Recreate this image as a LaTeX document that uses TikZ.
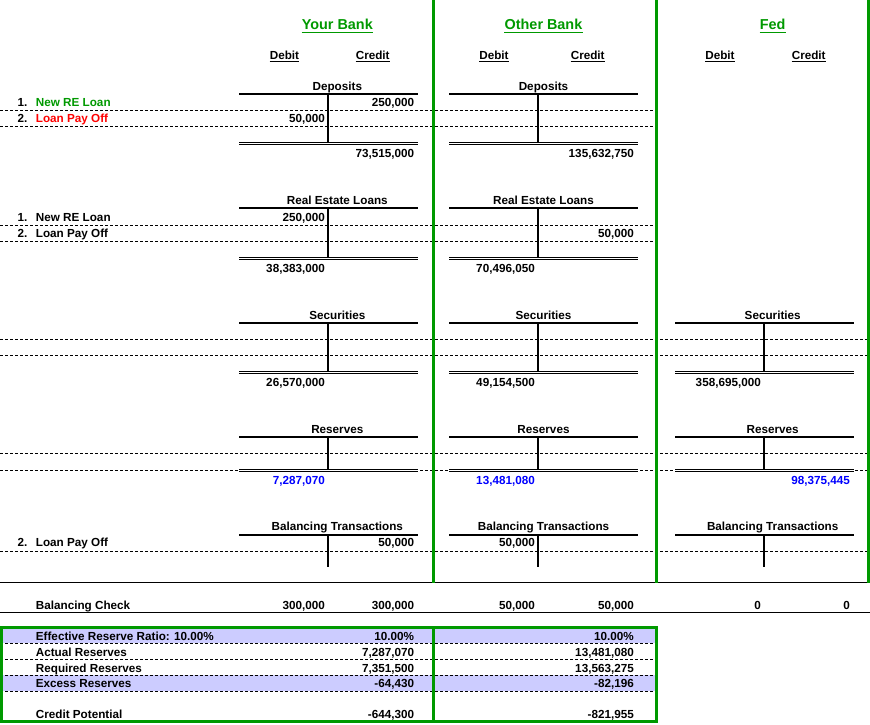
\documentclass[tikz,border=0pt]{standalone}
\usepackage{fontspec}
\setmainfont{Liberation Sans}
\definecolor{xlgreen}{RGB}{0,153,0}
\definecolor{xlred}{RGB}{255,0,0}
\definecolor{xlblue}{RGB}{0,0,255}
\definecolor{xlshade}{RGB}{204,204,255}
\tikzset{
  txt/.style={font=\fontsize{11.7}{13}\selectfont\bfseries,inner sep=0pt},
  lbl/.style={txt,anchor=base west},
  num/.style={txt,anchor=base east},
  ttl/.style={txt,anchor=base},
  head/.style={font=\fontsize{14.4}{16}\selectfont\bfseries,text=xlgreen,inner sep=0pt,anchor=base},
  uline/.style={line width=1.1pt},
  bar/.style={line width=2pt},
  dbl/.style={double,double distance=1pt,line width=1pt},
  dsh/.style={dash pattern=on 3pt off 2pt,line width=1pt},
  wall/.style={draw=xlgreen,line width=3pt},
}
\begin{document}
\begin{tikzpicture}[x=1pt,y=-1pt]
\useasboundingbox (0,0) rectangle (870,724);
%Shading
\fill[xlshade] (0,627) rectangle (656,643);
\fill[xlshade] (0,675) rectangle (656,691);
%Row lines
\draw[dsh] (0,110.5) -- (656,110.5);
\draw[dsh] (0,126.5) -- (656,126.5);
\draw[dsh] (0,225.5) -- (656,225.5);
\draw[dsh] (0,241.5) -- (656,241.5);
\draw[dsh] (0,339.5) -- (870,339.5);
\draw[dsh] (0,355.5) -- (870,355.5);
\draw[dsh] (0,453.5) -- (870,453.5);
\draw[dsh] (0,470.5) -- (870,470.5);
\draw[dsh] (0,551.5) -- (868,551.5);
\draw[dsh] (0,643.5) -- (656,643.5);
\draw[dsh] (0,659.5) -- (656,659.5);
\draw[dsh] (0,675.5) -- (656,675.5);
\draw[dsh] (0,691.5) -- (656,691.5);
\draw[line width=1pt] (0,582.5) -- (870,582.5);
\draw[line width=1pt] (0,612.5) -- (870,612.5);
%Columns
\draw[wall] (433.5,0) -- (433.5,583);
\draw[wall] (656.5,0) -- (656.5,583);
\draw[wall] (868,0) -- (868,583);
\draw[wall] (1.5,627.5) rectangle (656.5,721.5);
\draw[wall] (433.5,627.5) -- (433.5,721.5);
%Headers
\node[head] (yb) at (337.3,29.3) {Your Bank};
\node[head] (ob) at (543.5,29.3) {Other Bank};
\node[head] (fd) at (772.7,29.3) {Fed};
\node[ttl] (ydb) at (284.5,59.3) {Debit};
\node[ttl] (ycr) at (372.7,59.3) {Credit};
\node[ttl] (odb) at (494,59.3) {Debit};
\node[ttl] (ocr) at (587.7,59.3) {Credit};
\node[ttl] (fdb) at (720,59.3) {Debit};
\node[ttl] (fcr) at (808.7,59.3) {Credit};
\foreach \n in {yb,ob,fd}
  \draw[xlgreen,line width=1.4pt] ([yshift=-3pt]\n.base west) -- ([yshift=-3pt]\n.base east);
\foreach \n in {ydb,ycr,odb,ocr,fdb,fcr}
  \draw[uline] ([yshift=-2pt]\n.base west) -- ([yshift=-2pt]\n.base east);
%Deposits
\node[ttl] (dy) at (337.3,90) {Deposits};
\node[ttl] (do) at (543.5,90) {Deposits};
\draw[bar] (239.3,94) -- (417.7,94); \draw[bar] (328.3,94) -- (328.3,142);
\draw[bar] (449,94) -- (638,94); \draw[bar] (537.7,94) -- (537.7,142);
\draw[dbl] (239.3,143.5) -- (417.7,143.5);
\draw[dbl] (449,143.5) -- (638,143.5);
\node[lbl] (d1) at (17.3,106.7) {1.};
\node[lbl,text=xlgreen] (d1t) at (35.7,106.7) {New RE Loan};
\node[lbl] (d2) at (17.3,122.7) {2.};
\node[lbl,text=xlred] (d2t) at (35.7,122.7) {Loan Pay Off};
\node[num] (dya) at (414.3,106.7) {250,000};
\node[num] (dyb) at (325,122.7) {50,000};
\node[num] (dyt) at (414.3,157) {73,515,000};
\node[num] (dot) at (634,157) {135,632,750};
%Real Estate Loans
\node[ttl] (ry) at (337.3,204) {Real Estate Loans};
\node[ttl] (ro) at (543.5,204) {Real Estate Loans};
\draw[bar] (239.3,208) -- (417.7,208); \draw[bar] (328.3,208) -- (328.3,257);
\draw[bar] (449,208) -- (638,208); \draw[bar] (537.7,208) -- (537.7,257);
\draw[dbl] (239.3,258.5) -- (417.7,258.5);
\draw[dbl] (449,258.5) -- (638,258.5);
\node[lbl] (r1) at (17.3,221.7) {1.};
\node[lbl] (r1t) at (35.7,221.7) {New RE Loan};
\node[lbl] (r2) at (17.3,237.7) {2.};
\node[lbl] (r2t) at (35.7,237.7) {Loan Pay Off};
\node[num] (rya) at (325,221.7) {250,000};
\node[num] (rob) at (634,237.7) {50,000};
\node[num] (ryt) at (325,272.7) {38,383,000};
\node[num] (rot) at (535,272.7) {70,496,050};
%Securities
\node[ttl] (sy) at (337.3,319.3) {Securities};
\node[ttl] (so) at (543.5,319.3) {Securities};
\node[ttl] (sf) at (772.7,319.3) {Securities};
\draw[bar] (239.3,323) -- (417.7,323); \draw[bar] (328.3,323) -- (328.3,371);
\draw[bar] (449,323) -- (638,323); \draw[bar] (537.7,323) -- (537.7,371);
\draw[bar] (675,323) -- (854,323); \draw[bar] (763.7,323) -- (763.7,371);
\draw[dbl] (239.3,372.5) -- (417.7,372.5);
\draw[dbl] (449,372.5) -- (638,372.5);
\draw[dbl] (675,372.5) -- (854,372.5);
\node[num] (syt) at (325,386) {26,570,000};
\node[num] (sot) at (535,386) {49,154,500};
\node[num] (sft) at (761,386) {358,695,000};
%Reserves
\node[ttl] (vy) at (337.3,433.3) {Reserves};
\node[ttl] (vo) at (543.5,433.3) {Reserves};
\node[ttl] (vf) at (772.7,433.3) {Reserves};
\draw[bar] (239.3,437) -- (417.7,437); \draw[bar] (328.3,437) -- (328.3,469);
\draw[bar] (449,437) -- (638,437); \draw[bar] (537.7,437) -- (537.7,469);
\draw[bar] (675,437) -- (854,437); \draw[bar] (763.7,437) -- (763.7,469);
\draw[dbl] (239.3,470.5) -- (417.7,470.5);
\draw[dbl] (449,470.5) -- (638,470.5);
\draw[dbl] (675,470.5) -- (854,470.5);
\node[num,text=xlblue] (vyt) at (325,484.3) {7,287,070};
\node[num,text=xlblue] (vot) at (535,484.3) {13,481,080};
\node[num,text=xlblue] (vft) at (850,484.3) {98,375,445};
%Balancing Transactions
\node[ttl] (by) at (337.3,530.7) {Balancing Transactions};
\node[ttl] (bo) at (543.5,530.7) {Balancing Transactions};
\node[ttl] (bf) at (772.7,530.7) {Balancing Transactions};
\draw[bar] (239.3,534.7) -- (417.7,534.7); \draw[bar] (328.3,534.7) -- (328.3,567);
\draw[bar] (449,534.7) -- (638,534.7); \draw[bar] (537.7,534.7) -- (537.7,567);
\draw[bar] (675,534.7) -- (854,534.7); \draw[bar] (763.7,534.7) -- (763.7,567);
\node[lbl] (b2) at (17.3,546.7) {2.};
\node[lbl] (b2t) at (35.7,546.7) {Loan Pay Off};
\node[num] (byb) at (414.3,546.7) {50,000};
\node[num] (bob) at (535,546.7) {50,000};
%Balancing Check
\node[lbl] (ck) at (35.7,609) {Balancing Check};
\node[num] (ck1) at (325,609) {300,000};
\node[num] (ck2) at (414.3,609) {300,000};
\node[num] (ck3) at (535,609) {50,000};
\node[num] (ck4) at (634,609) {50,000};
\node[num] (ck5) at (761,609) {0};
\node[num] (ck6) at (850,609) {0};
%Reserve Summary
\node[lbl] (e1) at (35.7,640) {Effective Reserve Ratio: 10.00\%};
\node[lbl] (e2) at (35.7,656) {Actual Reserves};
\node[lbl] (e3) at (35.7,672) {Required Reserves};
\node[lbl] (e4) at (35.7,687.7) {Excess Reserves};
\node[lbl] (e5) at (35.7,718.3) {Credit Potential};
\node[num] (ey1) at (414.3,640) {10.00\%};
\node[num] (ey2) at (414.3,656) {7,287,070};
\node[num] (ey3) at (414.3,672) {7,351,500};
\node[num] (ey4) at (414.3,687.7) {-64,430};
\node[num] (ey5) at (414.3,718.3) {-644,300};
\node[num] (eo1) at (634,640) {10.00\%};
\node[num] (eo2) at (634,656) {13,481,080};
\node[num] (eo3) at (634,672) {13,563,275};
\node[num] (eo4) at (634,687.7) {-82,196};
\node[num] (eo5) at (634,718.3) {-821,955};
\end{tikzpicture}
\end{document}
